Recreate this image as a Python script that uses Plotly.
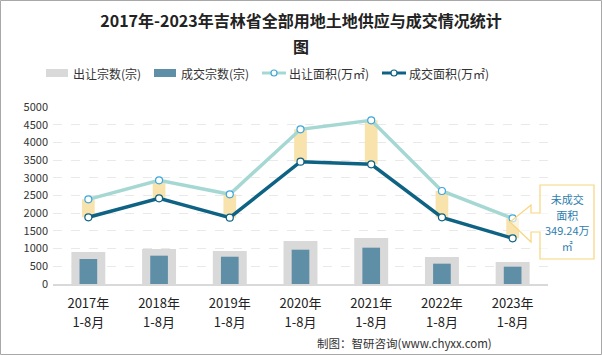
import plotly.graph_objects as go

categories = ["2017年1-8月", "2018年1-8月", "2019年1-8月", "2020年1-8月",
              "2021年1-8月", "2022年1-8月", "2023年1-8月"]
supply_count = [904, 989, 932, 1215, 1299, 763, 621]
deal_count = [706, 800, 771, 969, 1026, 574, 489]
supply_area = [2392, 2930, 2534, 4370, 4624, 2627, 1856]
deal_area = [1884, 2421, 1873, 3455, 3381, 1884, 1291]

W, H = 602, 355
L, R, T, B = 53, 54, 107, 71
PW, PH = W - L - R, H - T - B

FONT = "Noto Sans CJK SC"
C_SUP_BAR = "#D9D9D9"
C_DEAL_BAR = "#5E8FA7"
C_BAND = "#F9E3AC"
C_SUP_LINE = "#A6D8D3"
C_DEAL_LINE = "#0E6283"


def sized(text, size):
    return f'<span style="font-size:{size}px">{text}</span>'


ticktext = [sized(c[:5], 13) + "<br>" + sized(c[5:], 13) for c in categories]

fig = go.Figure()
fig.add_trace(go.Bar(x=categories, y=supply_count, name="出让宗数(宗)", marker_color=C_SUP_BAR,
                     width=0.48, marker_line_width=0))
fig.add_trace(go.Bar(x=categories, y=deal_count, name="成交宗数(宗)", marker_color=C_DEAL_BAR,
                     width=0.25, marker_line_width=0))
fig.add_trace(go.Bar(x=categories, y=[s - d for s, d in zip(supply_area, deal_area)], base=deal_area,
                     marker_color=C_BAND, width=0.18, marker_line_width=0, showlegend=False,
                     hoverinfo="skip"))
fig.add_trace(go.Scatter(x=categories, y=supply_area, name="出让面积(万㎡)", mode="lines+markers",
                         line=dict(color=C_SUP_LINE, width=3.5),
                         marker=dict(size=7, color="white", line=dict(color="#3FA6DA", width=1.2))))
fig.add_trace(go.Scatter(x=categories, y=deal_area, name="成交面积(万㎡)", mode="lines+markers",
                         line=dict(color=C_DEAL_LINE, width=3.5),
                         marker=dict(size=7, color="white", line=dict(color=C_DEAL_LINE, width=1.2))))


def px(x):
    return (x - L) / PW


def py(y):
    return (H - B - y) / PH


# callout box with arrow
pts = [(540, 185), (594, 185), (594, 259), (540, 259), (540, 232), (531, 232), (531, 242),
       (510, 222), (531, 205), (531, 213), (540, 213)]
path = "M " + " L ".join(f"{px(a):.5f},{py(b):.5f}" for a, b in pts) + " Z"
shapes = [
    dict(type="path", xref="paper", yref="paper", path=path, line=dict(color="#F8D67E", width=1.2),
         fillcolor="rgba(255,255,255,0.6)", layer="above"),
    dict(type="rect", xref="paper", yref="paper", x0=px(0.5), x1=px(W - 0.5), y0=py(H - 0.5), y1=py(0.5),
         line=dict(color="#A8A8A8", width=1), fillcolor="rgba(0,0,0,0)", layer="above"),
]

callout_lines = ["未成交", "面积", "349.24万", "㎡"]
annotations = [
    dict(xref="paper", yref="paper", x=px(567), y=py(222),
         text="<br>".join(sized(t, 11) for t in callout_lines),
         showarrow=False, font=dict(family=FONT, size=12, color="#2E7DAE"), align="center",
         xanchor="center", yanchor="middle"),
    dict(xref="paper", yref="paper", x=px(494), y=py(343), text="制图：智研咨询(www.chyxx.com)",
         showarrow=False, font=dict(family=FONT, size=11.5, color="#333333"), xanchor="right",
         yanchor="middle"),
]

# custom legend (wide swatches as in the reference)
legend_items = [("bar", C_SUP_BAR, 46, "出让宗数(宗)"), ("bar", C_DEAL_BAR, 154, "成交宗数(宗)"),
                ("line", C_SUP_LINE, 262, "出让面积(万㎡)"), ("line", C_DEAL_LINE, 382, "成交面积(万㎡)")]
LY = 73
for kind, col, x0, label in legend_items:
    if kind == "bar":
        shapes.append(dict(type="rect", xref="paper", yref="paper", x0=px(x0), x1=px(x0 + 22),
                           y0=py(LY + 4), y1=py(LY - 4), line=dict(width=0), fillcolor=col))
    else:
        shapes.append(dict(type="line", xref="paper", yref="paper", x0=px(x0), x1=px(x0 + 24),
                           y0=py(LY), y1=py(LY), line=dict(color=col, width=3)))
        shapes.append(dict(type="circle", xref="paper", yref="paper", x0=px(x0 + 9), x1=px(x0 + 15),
                           y0=py(LY + 3), y1=py(LY - 3),
                           line=dict(color="#3FA6DA" if col == C_SUP_LINE else col, width=1.2),
                           fillcolor="white"))
    annotations.append(dict(xref="paper", yref="paper", x=px(x0 + 25), y=py(LY), text=label, showarrow=False,
                            font=dict(family=FONT, size=12, color="#333333"), xanchor="left", yanchor="middle"))

title_line1 = "2017年-2023年吉林省全部用地土地供应与成交情况统计"
title_line2 = "图"

fig.update_layout(
    width=W, height=H,
    margin=dict(l=L, r=R, t=T, b=B, autoexpand=False),
    paper_bgcolor="white", plot_bgcolor="white",
    barmode="overlay",
    title=dict(text=f"<b>{sized(title_line1, 16)}<br>{sized(title_line2, 16)}</b>",
               x=0.5, xanchor="center", y=1 - 27 / H, yanchor="middle",
               font=dict(family=FONT, size=20, color="#222222")),
    showlegend=False,
    xaxis=dict(showgrid=False, showline=True, linecolor="#D9D9D9", linewidth=1.5, ticks="",
               tickmode="array", tickvals=categories, ticktext=ticktext,
               ticklabelstandoff=4, tickfont=dict(family=FONT, size=15, color="#222222")),
    yaxis=dict(range=[0, 5000], dtick=500, showgrid=True, gridcolor="#E9E9E9", griddash="dash",
               zeroline=False, showline=False, ticks="", ticklabelstandoff=4,
               tickfont=dict(family=FONT, size=11, color="#333333")),
    shapes=shapes, annotations=annotations,
)

fig.write_html("out.html", config={"displayModeBar": False},
               post_script="document.body.style.margin='0';document.body.style.overflow='hidden';")
